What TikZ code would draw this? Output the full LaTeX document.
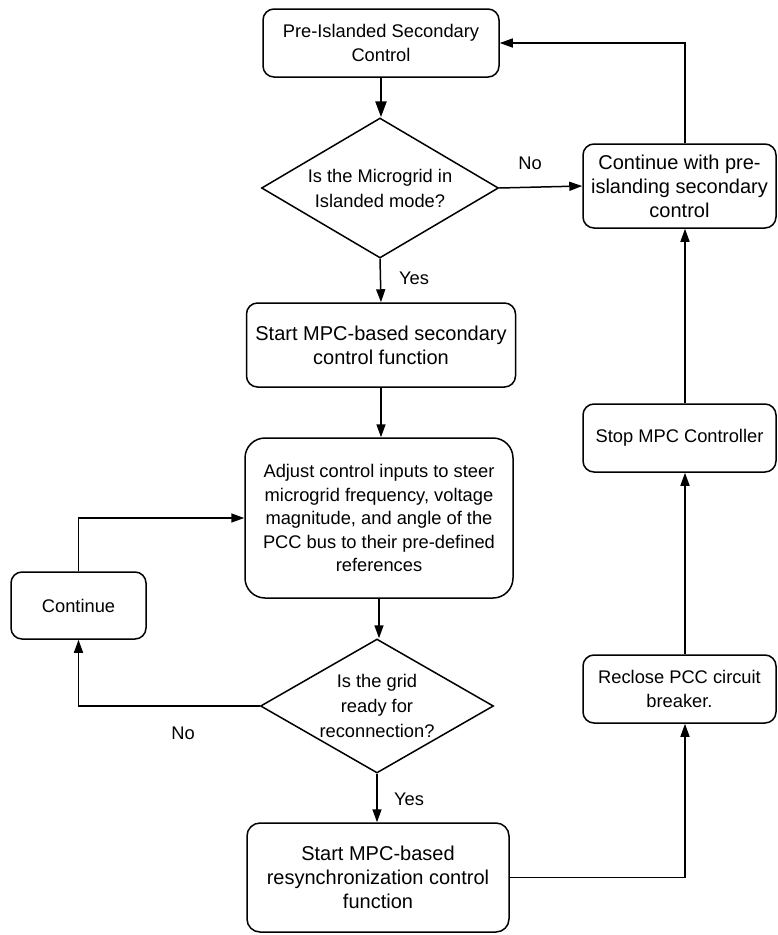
\documentclass[tikz,border=0pt]{standalone}
\usepackage{fontspec}
\setmainfont{Liberation Sans}
\usetikzlibrary{shapes.geometric,arrows.meta,calc}
\newcommand{\myfA}{\fontsize{18.3}{23.5}\selectfont}
\newcommand{\myfB}{\fontsize{20}{24}\selectfont}
\newcommand{\myfD}{\fontsize{18.3}{25}\selectfont}
\begin{document}
\begin{tikzpicture}[x=1pt,y=-1pt,
  box/.style={draw, line width=1.5pt, rounded corners=11pt, align=center, inner sep=0pt, font=\myfA},
  bigbox/.style={box, font=\myfB},
  dia/.style={draw, diamond, line width=1.5pt, align=center, inner sep=0pt, aspect=1.7, font=\myfD},
  arr/.style={draw, line width=1.5pt, -{Triangle[length=13pt,width=9pt]}},
  thickarr/.style={draw, line width=2.6pt, -{Triangle[length=16pt,width=11pt]}},
  lab/.style={font=\myfA, inner sep=0pt}
]
\useasboundingbox (0,0) rectangle (777,935);

\node[box, minimum width=236pt, minimum height=68pt] (pre) at (381,43) {Pre-Islanded Secondary\\Control};
\node[dia, minimum width=237pt, minimum height=140pt] (dia1) at (380,188) {Is the Microgrid in\\Islanded mode?};
\node[bigbox, minimum width=193pt, minimum height=84pt] (cont1) at (679.5,186) {Continue with pre-\\islanding secondary\\control};
\node[bigbox, minimum width=269pt, minimum height=84pt] (start) at (381,345) {Start MPC-based secondary\\control function};
\node[box, rounded corners=20pt, minimum width=268pt, minimum height=160pt] (adjust) at (379,518) {Adjust control inputs to steer\\microgrid frequency, voltage\\magnitude, and angle of the\\PCC bus to their pre-defined\\references};
\node[box, minimum width=135pt, minimum height=67pt] (cont2) at (78.5,605.5) {Continue};
\node[dia, minimum width=233pt, minimum height=134pt] (dia2) at (377,706) {Is the grid\\ready for\\reconnection?};
\node[bigbox, rounded corners=13pt, minimum width=262pt, minimum height=109pt] (resync) at (378,877.5) {Start MPC-based\\resynchronization control\\function};
\node[box, minimum width=193pt, minimum height=68pt] (reclose) at (679.5,689) {Reclose PCC circuit\\breaker.};
\node[box, minimum width=193pt, minimum height=68pt] (stop) at (679.5,438) {Stop MPC Controller};

\coordinate (rx) at (685,0);

\draw[thickarr] (pre.south) -- (pre.south |- dia1.north);
\draw[arr] (dia1.east) -- (cont1.west);
\draw[arr] (rx |- cont1.north) |- (pre.east);
\draw[arr] (dia1.south) -- (start.north);
\draw[arr] (start.south) -- (start.south |- adjust.north);
\draw[arr] (adjust.south) -- (adjust.south |- dia2.north);
\draw[arr] (dia2.west) -| (cont2.south);
\draw[arr] (cont2.north) |- (adjust.west);
\draw[arr] (dia2.south) -- (dia2.south |- resync.north);
\draw[arr] (resync.east) -| (rx |- reclose.south);
\draw[arr] (rx |- reclose.north) -- (rx |- stop.south);
\draw[arr] (rx |- stop.north) -- (rx |- cont1.south);

\node[lab] (lno1) at (530,163) {No};
\node[lab] (lyes1) at (414,278) {Yes};
\node[lab] (lno2) at (183,733) {No};
\node[lab] (lyes2) at (409,799) {Yes};
\end{tikzpicture}
\end{document}
